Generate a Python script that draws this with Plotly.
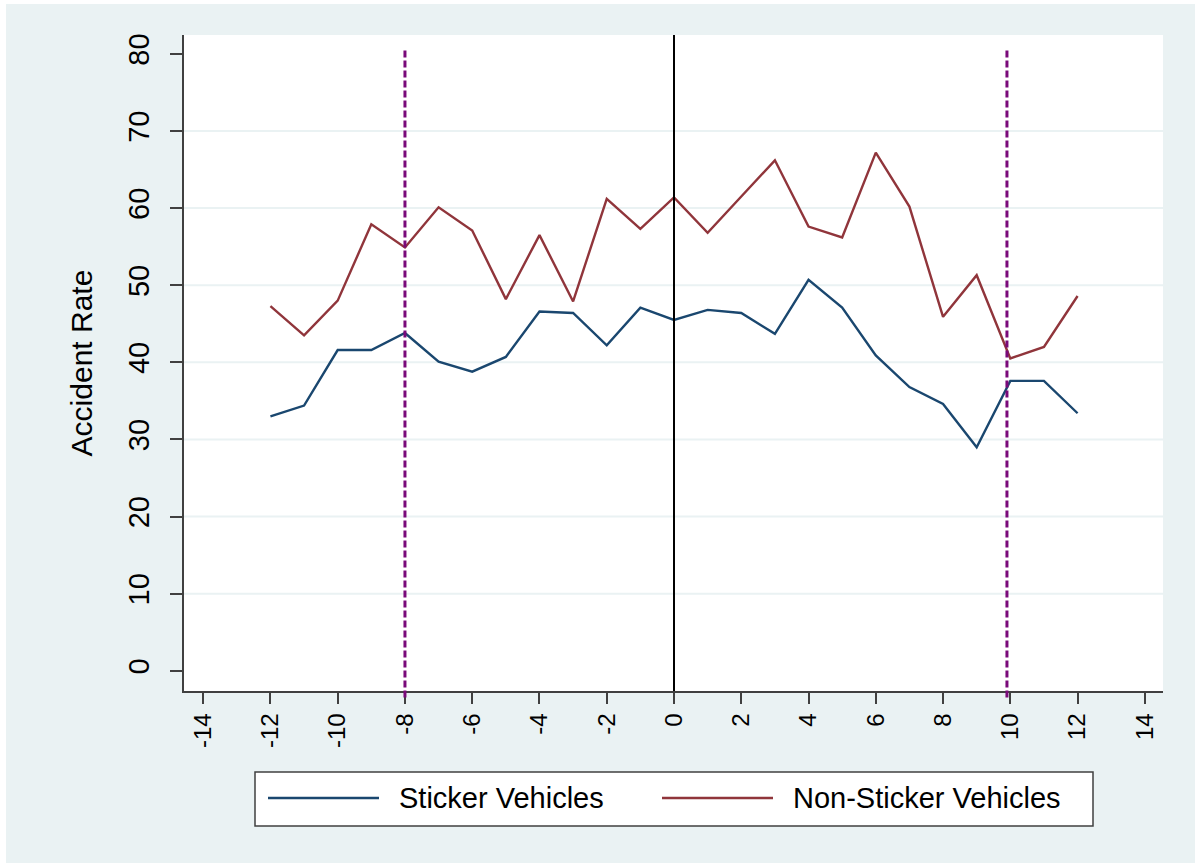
import plotly.graph_objects as go

# ---- data ----
periods = [-12, -11, -10, -9, -8, -7, -6, -5, -4, -3, -2, -1, 0,
           1, 2, 3, 4, 5, 6, 7, 8, 9, 10, 11, 12]
sticker = [33.0, 34.4, 41.6, 41.6, 43.8, 40.1, 38.8, 40.7, 46.6, 46.4, 42.2, 47.1, 45.5,
           46.8, 46.4, 43.7, 50.7, 47.1, 40.9, 36.8, 34.6, 29.0, 37.6, 37.6, 33.4]
non_sticker = [47.3, 43.5, 48.0, 57.9, 54.9, 60.1, 57.1, 48.2, 56.5, 47.9, 61.2, 57.3, 61.4,
               56.8, 61.5, 66.2, 57.6, 56.2, 67.2, 60.2, 45.9, 51.3, 40.5, 42.0, 48.6]
series_names = ["Sticker Vehicles", "Non-Sticker Vehicles"]
x_ticks = list(range(-14, 15, 2))
y_ticks = list(range(0, 81, 10))
grid_values = list(range(10, 71, 10))
dashed_refs = [-8, 9.9]
solid_refs = [0]

BLUE = "#1a476f"
RED = "#90353b"
PURPLE = "#7a0a7a"
BG = "#eaf2f3"
AXIS = "#404040"
FONT = "Liberation Sans, Arial, sans-serif"

W, H = 1195, 863
L, R, T, B = 184, 32, 35, 172
pw, ph = W - L - R, H - T - B

def px_x(px):
    return (px - L) / pw

def px_y(py):
    return (H - B - py) / ph

fig = go.Figure()
fig.add_trace(go.Scatter(x=periods, y=sticker, mode="lines", name=series_names[0],
                         line=dict(color=BLUE, width=2.4), showlegend=False))
fig.add_trace(go.Scatter(x=periods, y=non_sticker, mode="lines", name=series_names[1],
                         line=dict(color=RED, width=2.4), showlegend=False))

shapes = []
# white strips at picture edge
shapes.append(dict(type="rect", xref="paper", yref="paper", x0=px_x(0), x1=px_x(6),
                   y0=px_y(H), y1=px_y(0), fillcolor="white", line=dict(width=0), layer="below"))
shapes.append(dict(type="rect", xref="paper", yref="paper", x0=px_x(0), x1=px_x(W),
                   y0=px_y(4), y1=px_y(0), fillcolor="white", line=dict(width=0), layer="below"))
# gridlines (interior only)
for g in grid_values:
    shapes.append(dict(type="line", xref="paper", yref="y", x0=0, x1=1, y0=g, y1=g,
                       line=dict(color=BG, width=2), layer="below"))
for v in solid_refs:
    shapes.append(dict(type="line", xref="x", yref="paper", x0=v, x1=v, y0=0, y1=1,
                       line=dict(color="black", width=2)))
for v in dashed_refs:
    shapes.append(dict(type="line", xref="x", yref="paper", x0=v, x1=v, y0=-0.01, y1=0.98,
                       line=dict(color=PURPLE, width=3, dash="7px,3px")))

# custom legend
shapes.append(dict(type="rect", xref="paper", yref="paper", x0=px_x(255), x1=px_x(1093),
                   y0=px_y(826), y1=px_y(772), fillcolor="white",
                   line=dict(color=AXIS, width=1.5)))
legend_y = px_y(798)
legend_items = [(series_names[0], BLUE, 268, 379, 397), (series_names[1], RED, 662, 773, 791)]
annotations = []
for name, col, lx0, lx1, tx in legend_items:
    shapes.append(dict(type="line", xref="paper", yref="paper", x0=px_x(lx0), x1=px_x(lx1),
                       y0=legend_y, y1=legend_y, line=dict(color=col, width=2.5)))
    annotations.append(dict(xref="paper", yref="paper", x=px_x(tx), y=legend_y, text=name,
                            showarrow=False, xanchor="left", yanchor="middle",
                            font=dict(size=29, color="black", family=FONT)))

fig.update_layout(
    width=W, height=H,
    margin=dict(l=L, r=R, t=T, b=B, autoexpand=False),
    paper_bgcolor=BG, plot_bgcolor="white",
    font=dict(family=FONT, color="black"),
    shapes=shapes, annotations=annotations,
    showlegend=False,
)
fig.update_xaxes(range=[-14.57, 14.54], tickvals=x_ticks, ticktext=[str(v) for v in x_ticks],
                 tickangle=-90, showgrid=False, zeroline=False,
                 showline=True, linecolor=AXIS, linewidth=1.5,
                 ticks="outside", ticklen=11, tickwidth=1.5, tickcolor=AXIS,
                 tickfont=dict(size=24, color="black"), ticklabelstandoff=0)
fig.update_yaxes(range=[-2.62, 82.45], tickvals=y_ticks, ticktext=[str(v) for v in y_ticks],
                 tickangle=-90, showgrid=False, zeroline=False,
                 showline=True, linecolor=AXIS, linewidth=1.5,
                 ticks="outside", ticklen=12, tickwidth=1.5, tickcolor=AXIS,
                 tickfont=dict(size=29, color="black"), ticklabelstandoff=10,
                 title=dict(text="Accident Rate", font=dict(size=30, color="black"), standoff=21))

fig.write_html("out.html", config={"displayModeBar": False},
               post_script="document.body.style.margin='0';document.body.style.padding='0';")
